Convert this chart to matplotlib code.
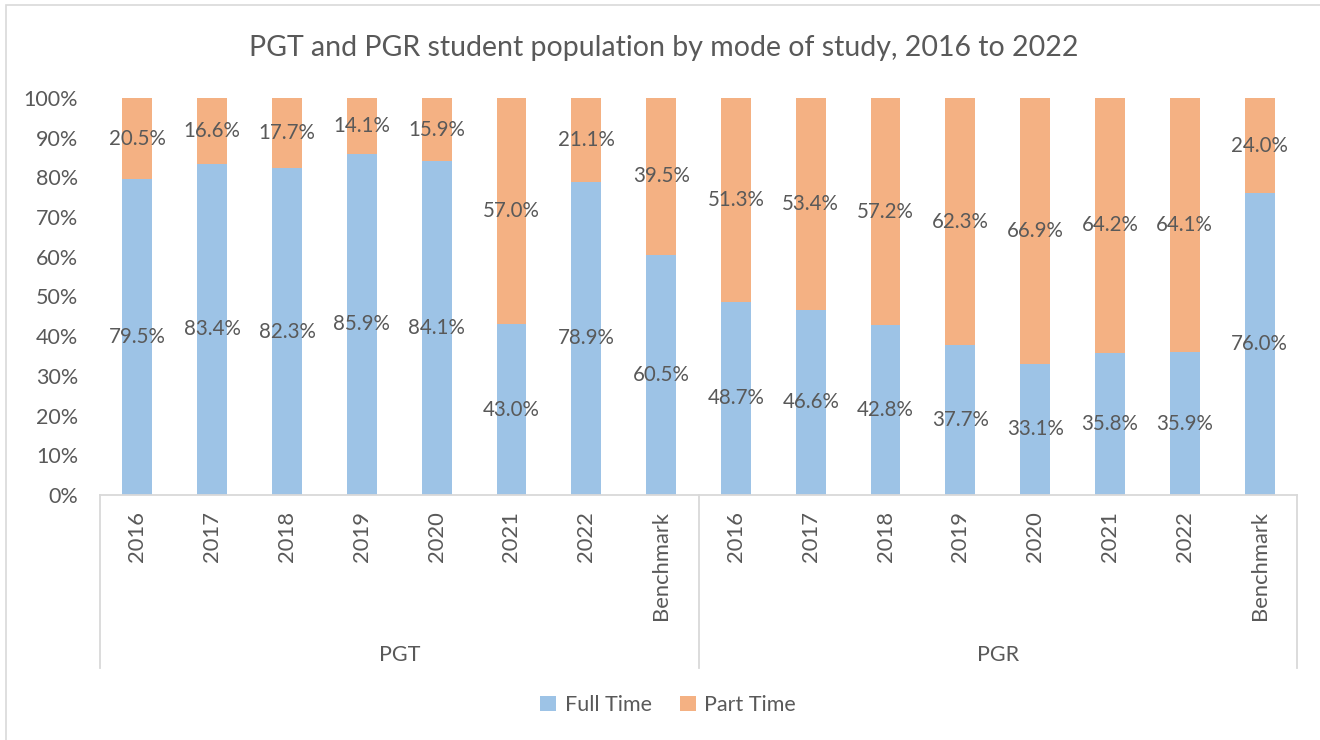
import matplotlib
matplotlib.use("Agg")
import matplotlib.pyplot as plt
from matplotlib.patches import Rectangle
from matplotlib.lines import Line2D

groups = ["PGT", "PGR"]
categories = ["2016", "2017", "2018", "2019", "2020", "2021", "2022", "Benchmark"]
full_time = [79.5, 83.4, 82.3, 85.9, 84.1, 43.0, 78.9, 60.5,
             48.7, 46.6, 42.8, 37.7, 33.1, 35.8, 35.9, 76.0]
part_time = [20.5, 16.6, 17.7, 14.1, 15.9, 57.0, 21.1, 39.5,
             51.3, 53.4, 57.2, 62.3, 66.9, 64.2, 64.1, 24.0]
series_names = ["Full Time", "Part Time"]
title = "PGT and PGR student population by mode of study, 2016 to 2022"

BLUE = "#9DC3E6"
ORANGE = "#F4B183"
TXT = "#595959"
AXC = "#D9D9D9"
FONT = ["Lato", "DejaVu Sans"]
plt.rcParams["font.family"] = FONT

W, H = 1320, 740
fig = plt.figure(figsize=(W / 100, H / 100), dpi=100)

# chart border
fig.patches.append(Rectangle((6 / W, -0.05), 1.1, (735 / H) + 0.05, transform=fig.transFigure,
                             fill=False, edgecolor="#D9D9D9", linewidth=1.2))

left, right, bottom, top = 100, 1297, 495, 98
ax = fig.add_axes([left / W, (H - bottom) / H, (right - left) / W, (bottom - top) / H])

n = len(full_time)
x = list(range(n))
labels_all = categories * len(groups)
ax.bar(x, full_time, width=0.4, color=BLUE, label=series_names[0])
ax.bar(x, part_time, width=0.4, bottom=full_time, color=ORANGE, label=series_names[1])

for i in x:
    ax.text(i, full_time[i] / 2, f"{full_time[i]:.1f}%", ha="center", va="center",
            fontsize=14.8, color=TXT)
    ax.text(i, full_time[i] + part_time[i] / 2, f"{part_time[i]:.1f}%", ha="center",
            va="center", fontsize=14.8, color=TXT)

ax.set_xlim(-0.5, n - 0.5)
ax.set_ylim(0, 100)
ax.set_yticks(range(0, 101, 10))
ax.set_yticklabels([f"{v}%" for v in range(0, 101, 10)], fontsize=15.5, color=TXT)
ax.tick_params(axis="y", length=0, pad=15.8)
ax.set_xticks([])
for s in ["top", "right", "left"]:
    ax.spines[s].set_visible(False)
ax.spines["bottom"].set_color(AXC)
ax.spines["bottom"].set_linewidth(1.3)

# category labels
for i in x:
    ax.annotate(labels_all[i], xy=(i, 0), xycoords="data", xytext=(0, -16),
                textcoords="offset pixels", rotation=90, ha="center", va="top",
                fontsize=15.8, color=TXT, annotation_clip=False)

# group dividers and labels
ng = len(categories)
for g in range(len(groups) + 1):
    xb = g * ng - 0.5
    ax.add_line(Line2D([xb, xb], [0, -173 / 3.97], color=AXC, linewidth=1.3, clip_on=False))
for g, name in enumerate(groups):
    xc = g * ng + (ng - 1) / 2
    ax.annotate(name, xy=(xc, 0), xycoords="data", xytext=(0, -160),
                textcoords="offset pixels", ha="center", va="center",
                fontsize=15.5, color=TXT, annotation_clip=False)

fig.text(664 / W, 1 - 48 / H, title, ha="center", va="center", fontsize=20.5, color=TXT)

handles, lbls = ax.get_legend_handles_labels()
leg = fig.legend(handles, lbls, loc="center", bbox_to_anchor=(668 / W, 1 - 705 / H), ncol=2,
                 frameon=False, fontsize=15.5, handlelength=0.75, handleheight=0.75,
                 handletextpad=0.4, columnspacing=1.3)
for t in leg.get_texts():
    t.set_color(TXT)

fig.savefig("out.png", dpi=100)
